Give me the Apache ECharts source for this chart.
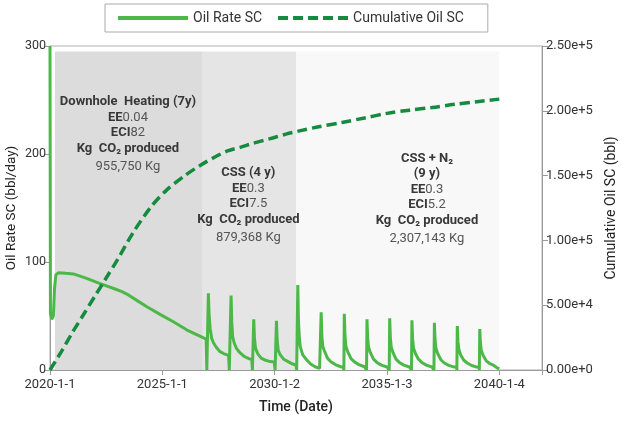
<!DOCTYPE html>
<html><head><meta charset="utf-8">
<script src="https://cdn.jsdelivr.net/npm/echarts@6/dist/echarts.min.js"></script>
<style>html,body{margin:0;padding:0;background:#fff}#c{width:628px;height:421px}</style>
</head><body><div id="c"></div>
<script>
// ---- data ----
const xTickLabels = ['2020-1-1', '2025-1-1', '2030-1-2', '2035-1-3', '2040-1-4']; // every 5 years
const rateTickLabels = ['0', '100', '200', '300'];
const cumTickLabels = ['0.00e+0', '5.00e+4', '1.00e+5', '1.50e+5', '2.00e+5', '2.50e+5'];

// phases: [start year, end year]
const phaseNames = ['Downhole Heating', 'CSS', 'CSS + N2'];
const phaseSpans = [[0.22, 6.8], [6.8, 10.96], [10.96, 20]];

// Oil rate SC (bbl/day) vs years since 2020-1-1
const rateHeating = [[0,300],[0.02,52],[0.08,47],[0.15,50],[0.2,75],[0.26,88],[0.37,90],[0.7,89.5],[1.04,89],[1.6,85],[2.23,80],[2.9,75],[3.2,72.5],[3.49,69.5],[3.9,64],[4.31,58.6],[4.9,51.5],[5.49,44.7],[6.1,37],[6.6,32],[6.95,28.5]];
const rateCSS = [
  [6.98,0],[7.03,0],[7.05,71],[7.08,52],[7.13,38],[7.2,29],[7.28,25],[7.4,21],[7.57,17],[7.75,15],[7.95,13.5],
  [7.98,0],[8.03,0],[8.06,69],[8.09,45],[8.13,31],[8.2,25],[8.3,20],[8.45,16],[8.65,12.5],[8.85,10.5],[8.98,10],
  [9.01,0],[9.05,0],[9.07,47],[9.1,30],[9.15,20],[9.25,15],[9.4,11],[9.6,9],[9.8,7.8],[9.98,7.5],
  [10.02,0],[10.05,0],[10.08,45.5],[10.11,28],[10.16,18],[10.25,14],[10.4,10],[10.6,7.7],[10.8,5.5],[10.95,4.6]
];
const rateCSSN2 = [
  [10.98,0],[11.0,0],[11.03,78.7],[11.06,45],[11.1,30],[11.14,21.6],[11.25,14],[11.43,9.3],[11.6,5.5],[11.8,3],[12.0,1.5],
  [12.03,0],[12.05,0],[12.07,53.4],[12.1,32],[12.14,22],[12.2,18.5],[12.35,11],[12.5,7.7],[12.7,5],[12.94,3],[13.05,2.5],
  [13.08,0],[13.1,52],[13.13,32],[13.17,22],[13.25,17],[13.4,10.5],[13.55,7.5],[13.75,5],[14.0,3],[14.07,2.5],
  [14.09,0],[14.11,47],[14.14,30],[14.18,21],[14.26,16],[14.4,10],[14.55,7],[14.75,4.5],[15.0,2.8],[15.08,2.5],
  [15.1,0],[15.12,47.8],[15.15,30],[15.19,21],[15.27,16],[15.4,10],[15.55,7],[15.75,4.5],[16.0,2.8],[16.08,2.5],
  [16.09,0],[16.11,46],[16.14,29],[16.18,20.5],[16.26,15.5],[16.4,10],[16.55,7],[16.75,4.5],[17.0,2.8],[17.08,2.5],
  [17.09,0],[17.11,43.8],[17.14,28],[17.18,20],[17.26,15],[17.4,9.5],[17.55,6.5],[17.75,4.3],[18.0,2.7],[18.1,2.5],
  [18.11,0],[18.13,40.7],[18.16,26],[18.2,19],[18.28,14],[18.42,9],[18.57,6.5],[18.77,4.2],[19.0,2.7],[19.1,2.5],
  [19.11,0],[19.13,38],[19.16,25],[19.2,18],[19.28,13.5],[19.42,8.5],[19.57,6],[19.77,4],[19.9,2],[20.0,1]
];

// Cumulative oil SC (bbl)
const cumOil = [[0,0],[0.5,14000],[1,29000],[1.5,43000],[2,57000],[2.5,71000],[3,85000],[3.7,106000],[4.5,126000],[5.2,139000],[6,150000],[6.7,158000],[7.3,164000],[7.9,169000],[8.5,172000],[9.06,175000],[9.8,178500],[10.5,182000],[11.1,184500],[11.9,187500],[13,191000],[14,194500],[15,198000],[16,200500],[17,202500],[18,205000],[19,207000],[20,209000]];

// annotation blocks: anchor [year, rate] of first line, lines of [bold, regular] text
const annotations = [
  { at: [3.47, 248], lines: [['Downhole  Heating (7y)', ''], ['EE', '0.04'], ['ECI', '82'], ['Kg  CO₂ produced', ''], ['', '955,750 Kg']] },
  { at: [8.83, 182.5], lines: [['CSS (4 y)', ''], ['EE', '0.3'], ['ECI', '7.5'], ['Kg  CO₂ produced', ''], ['', '879,368 Kg']] },
  { at: [16.78, 196], lines: [['CSS + N₂', ''], ['(9 y)', ''], ['EE', '0.3'], ['ECI', '5.2'], ['Kg  CO₂ produced', ''], ['', '2,307,143 Kg']] }
];

// ---- chart ----
const FONT = 'Roboto, "Noto Sans", sans-serif';
const phaseColors = ['#dcdcdc', '#e5e5e5', '#f8f8f8'];
const oilRate = rateHeating.concat(rateCSS, rateCSSN2);
const chart = echarts.init(document.getElementById('c'), null, { renderer: 'canvas' });
const axisGray = '#9a9a9a';

chart.setOption({
  animation: false,
  textStyle: { fontFamily: FONT },
  grid: { left: 50, right: 86, top: 46, bottom: 51, outerBoundsMode: 'none', containLabel: false, show: true, borderColor: '#b0b0b0', borderWidth: 1, backgroundColor: 'transparent' },
  legend: {
    left: 105, top: 4, padding: [7, 24, 7, 11], borderColor: '#aaa', borderWidth: 1,
    itemWidth: 70, itemHeight: 14, itemGap: 14,
    textStyle: { fontSize: 14, color: '#333', fontFamily: FONT },
    lineStyle: { width: 4 },
    itemStyle: { opacity: 0, borderWidth: 0 },
    data: ['Oil Rate SC', 'Cumulative Oil SC']
  },
  xAxis: {
    type: 'value', min: 0, max: 21.9, interval: 5,
    axisLine: { show: true, lineStyle: { color: axisGray } },
    axisTick: { show: true, length: 5, lineStyle: { color: axisGray } },
    splitLine: { show: false },
    axisLabel: {
      color: '#333', fontSize: 13,
      formatter: v => { const i = Math.round(v / 5); return Math.abs(v - i * 5) < 1e-6 && xTickLabels[i] ? xTickLabels[i] : ''; }
    },
    name: 'Time (Date)', nameLocation: 'middle', nameGap: 30, nameMoveOverlap: false,
    nameTextStyle: { fontSize: 14, color: '#222', fontWeight: 500 }
  },
  yAxis: [
    {
      type: 'value', min: 0, max: 300, interval: 100, position: 'left',
      axisLine: { show: true, lineStyle: { color: axisGray } },
      axisTick: { show: true, length: 6, lineStyle: { color: axisGray } },
      splitLine: { show: false },
      axisLabel: { color: '#333', fontSize: 12.5, margin: 4, formatter: v => rateTickLabels[Math.round(v / 100)] ?? '' },
      name: 'Oil Rate SC (bbl/day)', nameLocation: 'middle', nameGap: 31, nameMoveOverlap: false,
      nameTextStyle: { fontSize: 13.5, color: '#222' }
    },
    {
      type: 'value', min: 0, max: 250000, interval: 50000, position: 'right',
      axisLine: { show: true, lineStyle: { color: axisGray } },
      axisTick: { show: true, length: 6, lineStyle: { color: axisGray } },
      splitLine: { show: false },
      axisLabel: { color: '#333', fontSize: 13, margin: 4, formatter: v => cumTickLabels[Math.round(v / 50000)] ?? '' },
      name: 'Cumulative Oil SC (bbl)', nameLocation: 'middle', nameGap: 62, nameRotate: 90, nameMoveOverlap: false,
      nameTextStyle: { fontSize: 14, color: '#222' }
    }
  ],
  series: [
    {
      name: 'Oil Rate SC', type: 'line', data: oilRate, symbol: 'none', showSymbol: false,
      lineStyle: { color: '#4cb848', width: 3 }, itemStyle: { color: '#4cb848' },
      markArea: {
        silent: true,
        data: phaseSpans.map((s, i) => [
          { name: phaseNames[i], xAxis: s[0], yAxis: 0, itemStyle: { color: phaseColors[i] }, label: { show: false } },
          { xAxis: s[1], yAxis: 295 }
        ])
      }
    },
    {
      name: 'Cumulative Oil SC', type: 'line', yAxisIndex: 1, data: cumOil, symbol: 'none', showSymbol: false, smooth: 0.3,
      lineStyle: { color: '#168a3e', width: 3.5, type: [10, 5] }, itemStyle: { color: '#168a3e' }
    }
  ]
});

// annotation texts
const rich = {
  b: { fontFamily: FONT, fontSize: 13, fontWeight: 'bold', fill: '#383838', color: '#383838' },
  r: { fontFamily: FONT, fontSize: 13, fill: '#555', color: '#555' }
};
const graphics = [];
annotations.forEach(a => {
  const p = chart.convertToPixel({ xAxisIndex: 0, yAxisIndex: 0 }, a.at);
  a.lines.forEach((ln, k) => {
    let t = '';
    if (ln[0]) t += '{b|' + ln[0] + '}';
    if (ln[1]) t += '{r|' + ln[1] + '}';
    const extra = (k === a.lines.length - 1) ? 3 : 0;
    graphics.push({
      type: 'text', x: p[0], y: p[1] + k * 15.5 + extra, z: 100,
      style: { text: t, rich: rich, align: 'center', verticalAlign: 'middle', textAlign: 'center', textVerticalAlign: 'middle' }
    });
  });
});
chart.setOption({ graphic: graphics });
</script>
</body></html>
